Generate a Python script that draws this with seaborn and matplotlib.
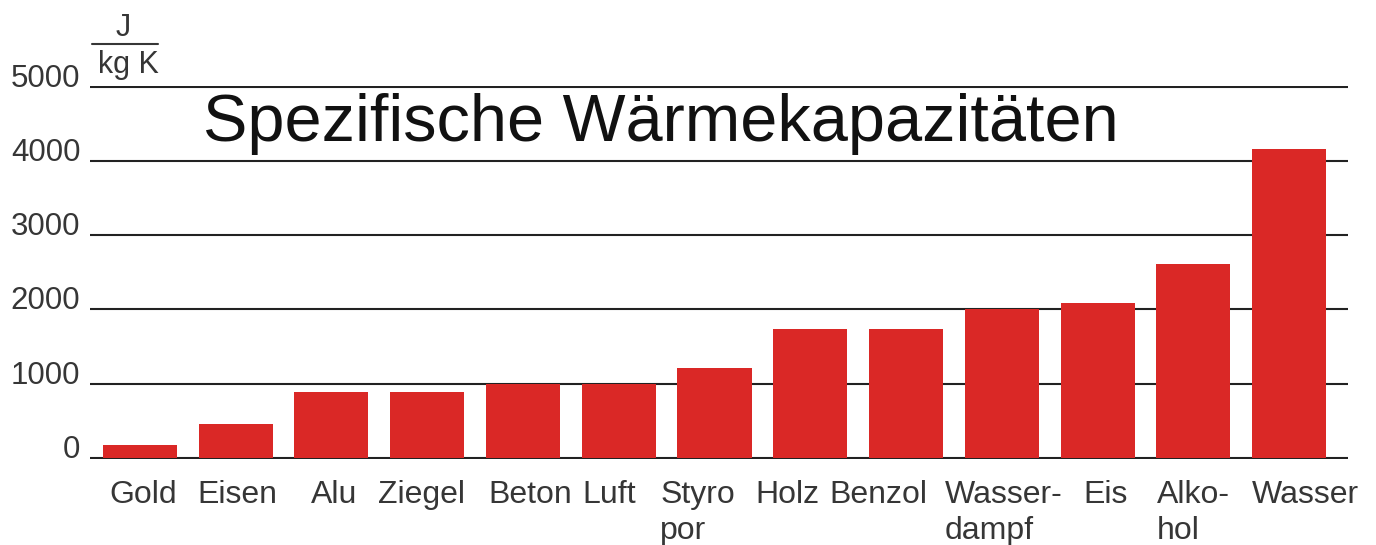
import numpy as np
import pandas as pd
import matplotlib
matplotlib.use("Agg")
import matplotlib.pyplot as plt
import matplotlib.transforms as mtransforms
from matplotlib.lines import Line2D
import seaborn as sns

# ---- data ----
materials = ["Gold", "Eisen", "Alu", "Ziegel", "Beton", "Luft", "Styro\npor",
             "Holz", "Benzol", "Wasser-\ndampf", "Eis", "Alko-\nhol", "Wasser"]
capacities = [170, 450, 890, 890, 1000, 1000, 1210, 1730, 1730, 2000, 2085, 2610, 4170]
y_ticks = [0, 1000, 2000, 3000, 4000, 5000]
y_tick_labels = ["0", "1000", "2000", "3000", "4000", "5000"]
title_text = "Spezifische Wärmekapazitäten"
unit_num = "J"
unit_den = "kg K"

# ---- style ----
label_shift_px = [3, 2, 3, -6, 7, -10, -17, -23, -28, 2, 8, 0, 16]
bar_color = "#DA2826"
text_color = "#363636"
W, H = 1376, 545

sns.set_theme(style="white")
plt.rcParams["font.family"] = ["Liberation Sans", "DejaVu Sans"]

fig = plt.figure(figsize=(W / 100, H / 100), dpi=100)
ax_left, ax_right = 90, 1348
ax_top, ax_bot = 87.3 - 1.1, 457.6 + 1.1
ax = fig.add_axes([ax_left / W, 1 - ax_bot / H, (ax_right - ax_left) / W, (ax_bot - ax_top) / H])

df = pd.DataFrame({"Material": materials, "c": capacities})
sns.barplot(data=df, x="Material", y="c", color=bar_color, saturation=1,
            width=0.773, ax=ax, linewidth=0, errorbar=None)

ax.set_xlim(-0.522, 12.616)
ax.set_ylim(-15, 5015)
ax.set_axisbelow(True)
ax.yaxis.grid(True, color="#222222", linewidth=1.5)
ax.xaxis.grid(False)
for s in ax.spines.values():
    s.set_visible(False)
ax.set_xlabel("")
ax.set_ylabel("")
ax.set_yticks(y_ticks)
ax.set_yticklabels(y_tick_labels)
ax.tick_params(axis="y", length=0, pad=7, labelsize=22.5, labelcolor=text_color)
ax.tick_params(axis="x", length=0, pad=15, labelsize=23, labelcolor=text_color)
for lab in ax.get_yticklabels():
    lab.set_verticalalignment("baseline")
for lab, dx in zip(ax.get_xticklabels(), label_shift_px):
    lab.set_multialignment("left")
    lab.set_linespacing(1.3)
    lab.set_transform(lab.get_transform() +
                      mtransforms.ScaledTranslation(dx / 100, 0, fig.dpi_scale_trans))

fig.text(203 / W, 1 - 141 / H, title_text, fontsize=48, color="#111111",
         ha="left", va="baseline")
fig.text(123.5 / W, 1 - 36 / H, unit_num, fontsize=22, color=text_color,
         ha="center", va="baseline")
fig.text(128 / W, 1 - 73 / H, unit_den, fontsize=22, color=text_color,
         ha="center", va="baseline")
fig.add_artist(Line2D([92 / W, 158 / W], [1 - 44.3 / H, 1 - 44.3 / H],
                      transform=fig.transFigure, color=text_color, linewidth=1.5))

fig.savefig("out.png", dpi=100, facecolor="white")
